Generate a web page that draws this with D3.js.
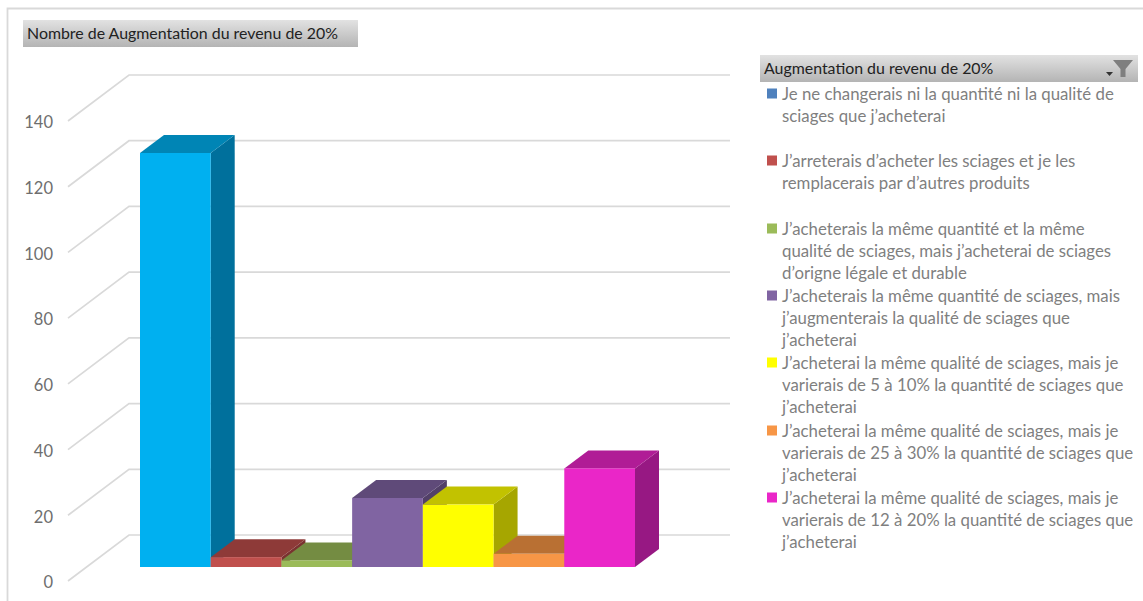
<!DOCTYPE html>
<html>
<head>
<meta charset="utf-8">
<script src="https://cdn.jsdelivr.net/npm/d3@7"></script>
<style>
  html, body { margin: 0; padding: 0; background: #fff; }
  svg { display: block; }
  text { font-family: Lato, "Open Sans", sans-serif; }
</style>
</head>
<body>
<div id="chart"></div>
<script>
const title = 'Nombre de Augmentation du revenu de 20%'
const legendTitle = 'Augmentation du revenu de 20%'
const categories = ['a', 'b', 'c', 'd', 'e', 'f', 'g']
const values = [126, 3, 2, 21, 19, 4, 30]
const frontColors = ['#00b0f0', '#c0504d', '#9bbb59', '#8064a2', '#ffff00', '#f79646', '#ea26c8']
const topColors = ['#0085b5', '#8e3a38', '#748c42', '#5f4a79', '#c2c200', '#b97033', '#b01c96']
const sideColors = ['#00709c', '#7a3230', '#64793a', '#524068', '#a6a600', '#9f602c', '#971883']
const legendColors = ['#4f81bd', '#c0504d', '#9bbb59', '#8064a2', '#ffff00', '#f79646', '#ea26c8']
const legendLines = [
  ['Je ne changerais ni la quantité ni la qualité de', 'sciages que j’acheterai'],
  ['J’arreterais d’acheter les sciages et je les', 'remplacerais par d’autres produits'],
  ['J’acheterais la même quantité et la même', 'qualité de sciages, mais j’acheterai de sciages', 'd’origne légale et durable'],
  ['J’acheterais la même quantité de sciages, mais', 'j’augmenterais la qualité de sciages que', 'j’acheterai'],
  ['J’acheterai la même qualité de sciages, mais je', 'varierais de 5 à 10% la quantité de sciages que', 'j’acheterai'],
  ['J’acheterai la même qualité de sciages, mais je', 'varierais de 25 à 30% la quantité de sciages que', 'j’acheterai'],
  ['J’acheterai la même qualité de sciages, mais je', 'varierais de 12 à 20% la quantité de sciages que', 'j’acheterai']
]
const legendTops = [94, 161, 229, 296, 363, 431, 498]
const ticks = [0, 20, 40, 60, 80, 100, 120, 140]

const width = 1143
const height = 601
const svg = d3.select('#chart').append('svg')
  .attr('width', width)
  .attr('height', height)

// header gradient
const grad = svg.append('defs').append('linearGradient')
  .attr('id', 'head')
  .attr('x1', 0).attr('x2', 0).attr('y1', 0).attr('y2', 1)
grad.append('stop').attr('offset', '0%').attr('stop-color', '#e2e2e2')
grad.append('stop').attr('offset', '100%').attr('stop-color', '#b4b4b4')

// outer frame, only top and left show
svg.append('path')
  .attr('d', 'M7.5,601V8.5H1143')
  .attr('fill', 'none')
  .attr('stroke', '#d9d9d9')
  .attr('stroke-width', 1.8)

// scales
const y = d3.scaleLinear().domain([0, 140]).range([581, 121])
const x = d3.scaleBand().domain(categories).range([140, 635])
const wallDx = 61
const wallDy = -46
const barDy = -14
const barDx = 24
const barDepthY = -18
const wallRight = 730

const grid = svg.append('g')
ticks.forEach((t) => {
  grid.append('path')
    .attr('d', d3.line()([[68, y(t)], [68 + wallDx, y(t) + wallDy], [wallRight, y(t) + wallDy]]))
    .attr('fill', 'none')
    .attr('stroke', '#d9d9d9')
    .attr('stroke-width', 1.7)
})

// tick labels through the axis
const axis = svg.append('g')
  .attr('transform', 'translate(53,1.5)')
  .call(d3.axisLeft(y).tickValues(ticks).tickSize(0).tickPadding(0))
axis.select('.domain').remove()
axis.selectAll('text')
  .attr('font-size', 16.5)
  .attr('fill', '#6e6e6e')
  .style('font-family', 'Lato, sans-serif')

// bars, left to right so that each one covers the side of the previous
const base = y(0) + barDy
const h = (v) => y(0) - y(v)
categories.forEach((c, i) => {
  const x0 = x(c)
  const x1 = x0 + x.bandwidth()
  const yt = base - h(values[i])
  const g = svg.append('g')
  g.append('path')
    .attr('d', d3.line()([[x1, base], [x1 + barDx, base + barDepthY], [x1 + barDx, yt + barDepthY], [x1, yt]]) + 'Z')
    .attr('fill', sideColors[i])
  g.append('path')
    .attr('d', d3.line()([[x0, yt], [x0 + barDx, yt + barDepthY], [x1 + barDx, yt + barDepthY], [x1, yt]]) + 'Z')
    .attr('fill', topColors[i])
  g.append('rect')
    .attr('x', x0)
    .attr('y', yt)
    .attr('width', x.bandwidth())
    .attr('height', h(values[i]))
    .attr('fill', frontColors[i])
})

// title button
svg.append('rect')
  .attr('x', 23).attr('y', 20)
  .attr('width', 335).attr('height', 27)
  .attr('fill', 'url(#head)')
svg.append('text')
  .attr('x', 27).attr('y', 39)
  .attr('font-size', 15.9)
  .attr('fill', '#222')
  .text(title)

// legend header
svg.append('rect')
  .attr('x', 760).attr('y', 55)
  .attr('width', 378).attr('height', 27)
  .attr('fill', 'url(#head)')
svg.append('text')
  .attr('x', 764).attr('y', 74)
  .attr('font-size', 15.9)
  .attr('fill', '#222')
  .text(legendTitle)
svg.append('path')
  .attr('d', 'M1113,60H1133L1125.5,69V77H1120.5V69Z')
  .attr('fill', '#7f7f7f')
svg.append('path')
  .attr('d', 'M1106,72H1113L1109.5,76Z')
  .attr('fill', '#333')

// legend entries
const legend = svg.selectAll('.entry')
  .data(legendLines)
  .enter().append('g')
  .attr('class', 'entry')
  .attr('transform', (d, i) => 'translate(767,' + legendTops[i] + ')')
legend.append('rect')
  .attr('y', -5.5)
  .attr('width', 10)
  .attr('height', 10)
  .attr('fill', (d, i) => legendColors[i])
legend.each(function (lines) {
  d3.select(this).selectAll('text')
    .data(lines)
    .enter().append('text')
    .attr('x', 15)
    .attr('y', (d, j) => 5.5 + j * 22.4)
    .attr('font-size', 16.8)
    .attr('fill', '#7f7f7f')
    .text((d) => d)
})
</script>
</body>
</html>
